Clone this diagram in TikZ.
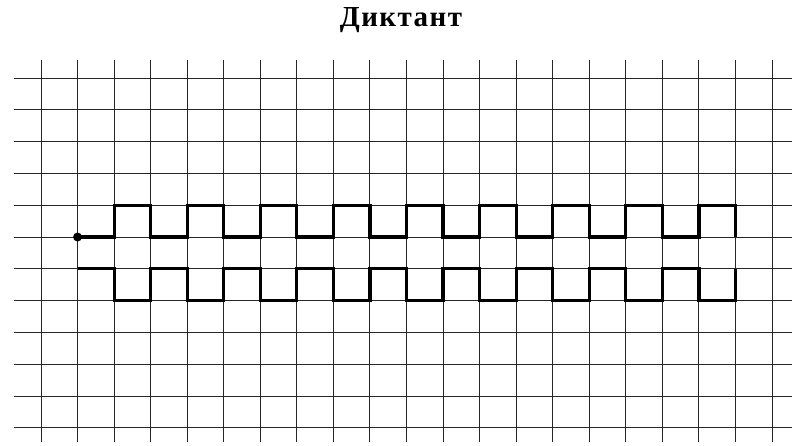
\documentclass[tikz,border=0pt]{standalone}
\usepackage{fontspec}
\setmainfont{Liberation Serif}
\begin{document}
\begin{tikzpicture}[x=1pt,y=-1pt,
  gridline/.style={line width=1pt, black!85},
  trace/.style={line width=3.2pt, black, line join=miter, line cap=butt},
  titletext/.style={font=\bfseries\fontsize{29}{32}\selectfont\addfontfeature{LetterSpace=5}, inner sep=0pt}]
\useasboundingbox (0,0) rectangle (796,445);
\fill[white] (0,0) rectangle (796,445);
\node[titletext] (title) at (401,20) {Диктант};
\foreach \i in {0,...,20} \draw[gridline] ({41+36.55*\i},60) -- ({41+36.55*\i},442);
\foreach \j in {0,...,11} \draw[gridline] (14,{78+31.8*\j}) -- (792,{78+31.8*\j});
\begin{scope}[shift={(41,78)}, x=36.55pt, y=-31.8pt]
  \coordinate (start) at (1,5);
  \draw[trace] (start) -- (2,5) -- (2,4) -- (3,4) -- (3,5) -- (4,5) -- (4,4) -- (5,4) -- (5,5)
    -- (6,5) -- (6,4) -- (7,4) -- (7,5) -- (8,5) -- (8,4) -- (9,4) -- (9,5)
    -- (10,5) -- (10,4) -- (11,4) -- (11,5) -- (12,5) -- (12,4) -- (13,4) -- (13,5)
    -- (14,5) -- (14,4) -- (15,4) -- (15,5) -- (16,5) -- (16,4) -- (17,4) -- (17,5)
    -- (18,5) -- (18,4) -- (19,4) -- (19,5);
  \draw[trace] (1,6) -- (2,6) -- (2,7) -- (3,7) -- (3,6) -- (4,6) -- (4,7) -- (5,7) -- (5,6)
    -- (6,6) -- (6,7) -- (7,7) -- (7,6) -- (8,6) -- (8,7) -- (9,7) -- (9,6)
    -- (10,6) -- (10,7) -- (11,7) -- (11,6) -- (12,6) -- (12,7) -- (13,7) -- (13,6)
    -- (14,6) -- (14,7) -- (15,7) -- (15,6) -- (16,6) -- (16,7) -- (17,7) -- (17,6)
    -- (18,6) -- (18,7) -- (19,7) -- (19,6);
  \fill (start) circle (4.5pt);
\end{scope}
\end{tikzpicture}
\end{document}
